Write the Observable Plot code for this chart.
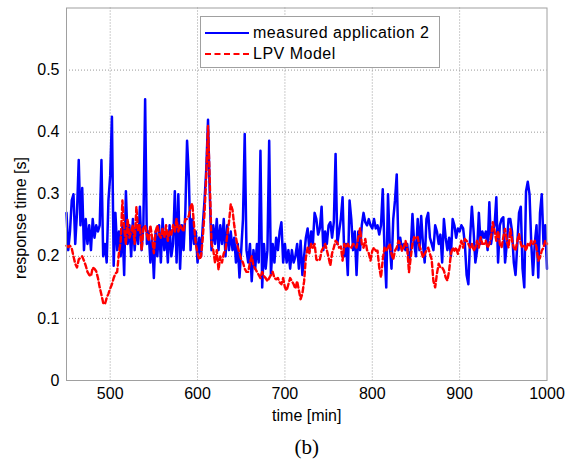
<!DOCTYPE html>
<html>
<head>
<meta charset="utf-8">
<script src="https://cdn.jsdelivr.net/npm/d3@7"></script>
<script src="https://cdn.jsdelivr.net/npm/@observablehq/plot@0.6"></script>
<style>
  html, body { margin: 0; padding: 0; background: #fff; }
  #wrap { position: relative; width: 582px; height: 466px; font-family: "Liberation Sans", Arial, sans-serif; }
  #legend { position: absolute; left: 200px; top: 16px; width: 240px; height: 52px; background: #fff; border: 1px solid #a0a0a0; box-sizing: border-box; }
  .lg { position: absolute; left: 52px; font-size: 16px; letter-spacing: 0.5px; color: #000; line-height: 16px; }
  .sw { position: absolute; left: 4px; width: 44px; height: 0; }
</style>
</head>
<body>
<div id="wrap">
  <div id="chart"></div>
  <div id="legend">
    <div class="sw" style="top:15px;border-top:2.5px solid #0000ff"></div>
    <div class="lg" style="top:8px">measured application 2</div>
    <div class="sw" style="top:36px;border-top:2px dashed #ff0000"></div>
    <div class="lg" style="top:29px">LPV Model</div>
  </div>
</div>
<script>
// sampling grid: every 2 minutes from 450 to 1000
const tStart = 450, tStep = 2;

// measured application 2 (response time, s), rows of 10 minutes
const measured = [
  0.27, 0.21, 0.24, 0.29, 0.30,   // 450
  0.22, 0.27, 0.355, 0.25, 0.31,  // 460
  0.21, 0.26, 0.22, 0.25, 0.21,   // 470
  0.26, 0.23, 0.25, 0.24, 0.25,   // 480
  0.355, 0.20, 0.22, 0.19, 0.29,  // 490
  0.33, 0.425, 0.185, 0.27, 0.21, // 500
  0.24, 0.20, 0.25, 0.17, 0.305,  // 510
  0.22, 0.25, 0.20, 0.26, 0.21,   // 520
  0.25, 0.22, 0.28, 0.21, 0.25,   // 530
  0.453, 0.22, 0.24, 0.19, 0.23,  // 540
  0.165, 0.24, 0.20, 0.25, 0.19,  // 550
  0.26, 0.21, 0.24, 0.19, 0.25,   // 560
  0.20, 0.22, 0.305, 0.19, 0.30,  // 570
  0.18, 0.25, 0.21, 0.27, 0.386,  // 580
  0.33, 0.21, 0.26, 0.22, 0.24,   // 590
  0.19, 0.23, 0.20, 0.25, 0.29,   // 600
  0.34, 0.42, 0.30, 0.21, 0.25,   // 610
  0.22, 0.26, 0.21, 0.25, 0.22,   // 620
  0.26, 0.20, 0.25, 0.21, 0.24,   // 630
  0.21, 0.23, 0.19, 0.22, 0.166,  // 640
  0.21, 0.26, 0.397, 0.21, 0.19,  // 650
  0.22, 0.16, 0.21, 0.18, 0.22,   // 660
  0.19, 0.37, 0.15, 0.22, 0.18,   // 670
  0.21, 0.386, 0.17, 0.22, 0.19,  // 680
  0.23, 0.21, 0.24, 0.255, 0.19,  // 690
  0.22, 0.19, 0.21, 0.18, 0.21,   // 700
  0.19, 0.20, 0.22, 0.18, 0.225,  // 710
  0.17, 0.20, 0.23, 0.245, 0.21,  // 720
  0.24, 0.22, 0.27, 0.26, 0.235,  // 730
  0.245, 0.28, 0.21, 0.24, 0.22,  // 740
  0.25, 0.255, 0.23, 0.255, 0.365,// 750
  0.22, 0.24, 0.26, 0.295, 0.20,  // 760
  0.22, 0.17, 0.29, 0.26, 0.21,   // 770
  0.24, 0.17, 0.24, 0.21, 0.25,   // 780
  0.27, 0.255, 0.25, 0.26, 0.25,  // 790
  0.245, 0.26, 0.245, 0.25, 0.235,// 800
  0.25, 0.308, 0.21, 0.15, 0.30,  // 810
  0.22, 0.18, 0.26, 0.29, 0.332,  // 820
  0.21, 0.23, 0.21, 0.22, 0.21,   // 830
  0.22, 0.19, 0.21, 0.268, 0.22,  // 840
  0.20, 0.26, 0.21, 0.265, 0.22,  // 850
  0.19, 0.26, 0.27, 0.23, 0.22,   // 860
  0.21, 0.25, 0.24, 0.22, 0.235,  // 870
  0.19, 0.26, 0.23, 0.21, 0.23,   // 880
  0.20, 0.26, 0.25, 0.23, 0.245,  // 890
  0.24, 0.25, 0.245, 0.22, 0.17,  // 900
  0.155, 0.23, 0.28, 0.24, 0.19,  // 910
  0.21, 0.27, 0.22, 0.24, 0.23,   // 920
  0.24, 0.21, 0.287, 0.22, 0.24,  // 930
  0.25, 0.295, 0.19, 0.25, 0.26,  // 940
  0.263, 0.19, 0.22, 0.26, 0.26,  // 950
  0.24, 0.19, 0.17, 0.22, 0.27,   // 960
  0.28, 0.18, 0.15, 0.305, 0.32,  // 970
  0.30, 0.22, 0.17, 0.22, 0.25,   // 980
  0.166, 0.27, 0.30, 0.22, 0.25,  // 990
  0.18                            // 1000
];

// LPV Model (response time, s)
const lpv = [
  0.217, 0.215, 0.217, 0.213, 0.200, // 450
  0.188, 0.182, 0.195, 0.198, 0.200, // 460
  0.193, 0.185, 0.175, 0.170, 0.168, // 470
  0.182, 0.180, 0.176, 0.165, 0.150, // 480
  0.138, 0.125, 0.123, 0.133, 0.140, // 490
  0.148, 0.155, 0.165, 0.172, 0.175, // 500
  0.205, 0.225, 0.290, 0.245, 0.220, // 510
  0.260, 0.230, 0.240, 0.250, 0.220, // 520
  0.280, 0.240, 0.250, 0.210, 0.245, // 530
  0.250, 0.235, 0.225, 0.250, 0.230, // 540
  0.205, 0.240, 0.250, 0.235, 0.230, // 550
  0.245, 0.230, 0.250, 0.225, 0.240, // 560
  0.235, 0.250, 0.240, 0.260, 0.240, // 570
  0.250, 0.245, 0.240, 0.260, 0.260, // 580
  0.265, 0.280, 0.285, 0.250, 0.220, // 590
  0.205, 0.195, 0.200, 0.230, 0.270, // 600
  0.330, 0.410, 0.320, 0.220, 0.210, // 610
  0.190, 0.210, 0.178, 0.200, 0.190, // 620
  0.205, 0.210, 0.235, 0.255, 0.284, // 630
  0.275, 0.250, 0.230, 0.215, 0.205, // 640
  0.195, 0.190, 0.180, 0.175, 0.175, // 650
  0.190, 0.200, 0.185, 0.180, 0.175, // 660
  0.170, 0.165, 0.175, 0.168, 0.165, // 670
  0.160, 0.165, 0.170, 0.175, 0.165, // 680
  0.163, 0.165, 0.158, 0.155, 0.165, // 690
  0.150, 0.145, 0.155, 0.165, 0.160, // 700
  0.155, 0.148, 0.160, 0.145, 0.131, // 710
  0.140, 0.160, 0.198, 0.214, 0.205, // 720
  0.220, 0.214, 0.220, 0.195, 0.193, // 730
  0.195, 0.209, 0.214, 0.220, 0.210, // 740
  0.198, 0.185, 0.205, 0.214, 0.225, // 750
  0.222, 0.214, 0.216, 0.193, 0.220, // 760
  0.214, 0.220, 0.214, 0.214, 0.220, // 770
  0.218, 0.214, 0.230, 0.245, 0.220, // 780
  0.214, 0.228, 0.210, 0.205, 0.193, // 790
  0.209, 0.214, 0.209, 0.209, 0.182, // 800
  0.166, 0.195, 0.214, 0.209, 0.214, // 810
  0.220, 0.204, 0.195, 0.209, 0.214, // 820
  0.225, 0.220, 0.209, 0.214, 0.225, // 830
  0.214, 0.174, 0.198, 0.220, 0.231, // 840
  0.228, 0.231, 0.217, 0.209, 0.198, // 850
  0.204, 0.209, 0.214, 0.204, 0.195, // 860
  0.160, 0.150, 0.172, 0.188, 0.182, // 870
  0.182, 0.177, 0.166, 0.161, 0.177, // 880
  0.204, 0.214, 0.209, 0.214, 0.204, // 890
  0.214, 0.225, 0.214, 0.228, 0.225, // 900
  0.220, 0.214, 0.220, 0.209, 0.214, // 910
  0.225, 0.214, 0.231, 0.220, 0.220, // 920
  0.225, 0.214, 0.220, 0.231, 0.255, // 930
  0.241, 0.225, 0.241, 0.220, 0.214, // 940
  0.231, 0.244, 0.225, 0.214, 0.244, // 950
  0.225, 0.214, 0.209, 0.225, 0.236, // 960
  0.220, 0.214, 0.217, 0.209, 0.220, // 970
  0.217, 0.225, 0.220, 0.225, 0.214, // 980
  0.193, 0.198, 0.209, 0.214, 0.225, // 990
  0.220                              // 1000
];

const xTicks = [500, 600, 700, 800, 900, 1000];
const yTicks = [0, 0.1, 0.2, 0.3, 0.4, 0.5];
const xLabel = "time [min]";
const yLabel = "response time [s]";
const caption = "(b)";

const mData = measured.map((v, i) => ({t: tStart + i * tStep, v}));
const lData = lpv.map((v, i) => ({t: tStart + i * tStep, v}));

const chart = Plot.plot({
  width: 582,
  height: 466,
  marginLeft: 66,
  marginRight: 35.5,
  marginTop: 7.5,
  marginBottom: 86,
  style: {fontFamily: "'Liberation Sans', Arial, sans-serif", fontSize: "16px", background: "#fff", color: "#000"},
  x: {domain: [450, 1000]},
  y: {domain: [0, 0.6]},
  marks: [
    Plot.gridX(xTicks.slice(0, -1), {stroke: "#9a9a9a", strokeOpacity: 1, strokeDasharray: "1,2"}),
    Plot.gridY(yTicks.slice(1), {stroke: "#9a9a9a", strokeOpacity: 1, strokeDasharray: "1,2"}),
    Plot.line(mData, {x: "t", y: "v", stroke: "#0000ff", strokeWidth: 2.5}),
    Plot.line(lData, {x: "t", y: "v", stroke: "#ff0000", strokeWidth: 2.4, strokeDasharray: "5,3"}),
    Plot.frame({stroke: "#a0a0a0", strokeWidth: 1}),
    Plot.axisX(xTicks, {tickSize: 0, tickPadding: 7, label: null, fontSize: 16, fill: "#000",
      tickFormat: d => String(d)}),
    Plot.axisY(yTicks, {tickSize: 0, tickPadding: 7, label: null, fontSize: 16, fill: "#000",
      tickFormat: d => d === 0 ? "0" : d3.format(".1f")(d)}),
    Plot.text([xLabel], {frameAnchor: "bottom", dy: 35, fontSize: 16, lineAnchor: "middle", fill: "#000"}),
    Plot.text([caption], {frameAnchor: "bottom", dy: 67, fontSize: 21, lineAnchor: "middle", fill: "#000",
      fontFamily: "'Liberation Serif', 'Times New Roman', serif"})
  ]
});
document.getElementById("chart").appendChild(chart);

// rotated y-axis title
d3.select(chart).append("text")
  .attr("transform", "translate(22,218) rotate(-90)")
  .attr("text-anchor", "middle")
  .attr("dominant-baseline", "middle")
  .attr("font-size", 16)
  .attr("fill", "#000")
  .text(yLabel);
</script>
</body>
</html>
